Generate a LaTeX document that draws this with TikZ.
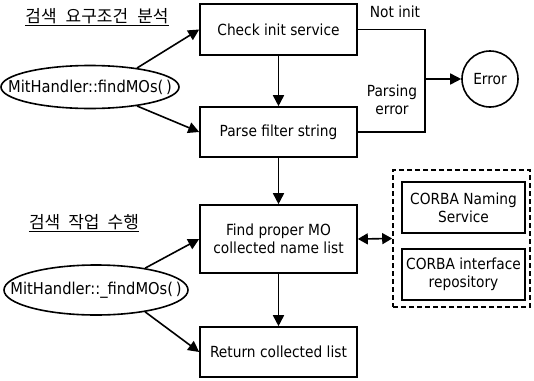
\documentclass[tikz,border=0pt]{standalone}
\usepackage{fontspec}
\setmainfont{DejaVu Sans Condensed}
\newfontfamily\kofont{Noto Sans CJK KR}
\usetikzlibrary{arrows.meta,shapes.geometric}
\begin{document}
\begin{tikzpicture}[x=1pt,y=-1pt,
  every node/.style={font=\fontsize{15.3}{18}\selectfont, inner sep=0pt},
  line/.style={line width=1.6pt},
  arr/.style={line width=1.6pt,-{Triangle[length=11pt,width=11pt]}},
  darr/.style={line width=1.6pt,{Triangle[length=10pt,width=11pt]}-{Triangle[length=10pt,width=11pt]}},
  stepbox/.style={draw,line width=1.6pt,minimum width=157pt,align=center},
  oval/.style={draw,ellipse,line width=1.6pt},
  ovaltext/.style={font=\fontsize{16.3}{19}\selectfont},
  corbabox/.style={draw,line width=1.6pt,minimum width=123pt,minimum height=51pt,align=center},
  title/.style={font=\kofont\fontsize{17}{19}\selectfont}
]
\useasboundingbox (0,0) rectangle (534,380);
% titles
\node[title] (t1) at (97,16) {검색\hspace{9pt}요구조건\hspace{9pt}분석};
\draw[line width=1pt] ([yshift=-2pt]t1.south west) -- ([yshift=-2pt]t1.south east);
\node[title] (t2) at (84,222) {검색\hspace{8pt}작업\hspace{8pt}수행};
\draw[line width=1pt] ([yshift=-2pt]t2.south west) -- ([yshift=-2pt]t2.south east);
% boxes
\node[stepbox,minimum height=51pt] (b1) at (278.5,29.5) {Check init service};
\node[stepbox,minimum height=50pt] (b2) at (278.5,132) {Parse filter string};
\node[stepbox,minimum height=68pt] (b3) at (278.5,239) {Find proper MO\\collected name list};
\node[stepbox,minimum height=50pt] (b4) at (278.5,352) {Return collected list};
% ellipses
\node[oval,minimum width=178pt,minimum height=43pt] (e1) at (90,87) {};
\node[ovaltext] (e1t) at (e1) {MitHandler::findMOs(\,)};
\node[oval,minimum width=184pt,minimum height=50pt] (e2) at (96,290) {};
\node[ovaltext] (e2t) at (e2) {MitHandler::\_findMOs(\,)};
% error
\node[draw,circle,line width=1.6pt,minimum size=56pt] (err) at (490,79) {Error};
\node (ni) at (395,12) {Not init};
\node[align=center] (pe) at (392,100) {Parsing\\error};
% corba
\node[draw,dashed,line width=1.6pt,dash pattern=on 5pt off 3pt,minimum width=137pt,minimum height=137pt] (cb) at (461.5,238.5) {};
\node[corbabox] (c1) at (463.5,207.5) {CORBA Naming\\Service};
\node[corbabox] (c2) at (463.5,274.5) {CORBA interface\\repository};
% connectors
\draw[arr] (e1.22) -- (b1.west);
\draw[arr] (e1.-22) -- (b2.west);
\draw[arr] (e2.24) -- (b3.west);
\draw[arr] (e2.-24) -- (b4.west);
\draw[arr] (b1) -- (b2);
\draw[arr] (b2) -- (b3);
\draw[arr] (b3) -- (b4);
\coordinate (j) at (425,79);
\draw[line] (b1.east) -| (j) |- (b2.east);
\draw[arr] (j) -- (err);
\draw[darr] (b3.east) -- (cb.west);
\end{tikzpicture}
\end{document}
